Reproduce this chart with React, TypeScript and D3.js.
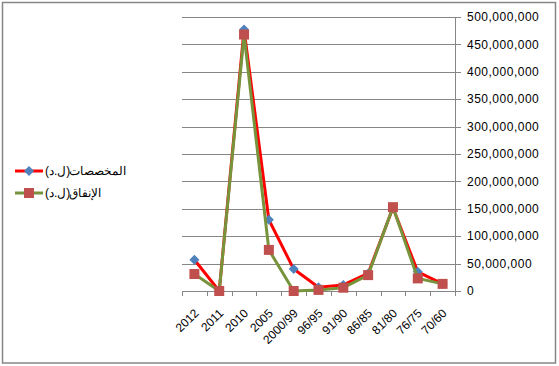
import React from "react";
import * as d3 from "d3";

const categories = ["2012", "2011", "2010", "2005", "2000/99", "96/95", "91/90", "86/85", "81/80", "76/75", "70/60"];
const allocations = [57e6, 0, 477e6, 130e6, 40e6, 7e6, 11e6, 32e6, 152e6, 35e6, 13e6];
const spending = [31e6, 0, 468e6, 75e6, 0, 2e6, 6e6, 29e6, 153e6, 23e6, 13e6];
const yTicks = [0, 50e6, 100e6, 150e6, 200e6, 250e6, 300e6, 350e6, 400e6, 450e6, 500e6];
const seriesNames = ["المخصصات", "الإنفاق"];
const unitLabel = "(ل.د)";

const W = 559, H = 366;
const left = 182, right = 455, top = 17, bottom = 291;

export default function App() {
  const x = d3.scaleBand<string>().domain(categories).range([left, right]);
  const y = d3.scaleLinear().domain([0, 500e6]).range([bottom, top]);
  const cx = (c: string) => (x(c) as number) + x.bandwidth() / 2;
  const line = d3.line<number>().x((_, i) => cx(categories[i])).y((v) => y(v));
  const fmt = d3.format(",");
  const grey = "#868686";
  const font = "Arial, 'Liberation Sans', sans-serif";
  const legendText = (name: string, yy: number) => (
    <g>
      <text x={45} y={yy} dy="0.35em" fontSize={12} fill="#000">{unitLabel}</text>
      <text x={69} y={yy} dy="0.35em" fontSize={12} fill="#000">{name}</text>
    </g>
  );
  return (
    <svg width={W} height={H} style={{ position: "absolute", left: 0, top: 0 }} fontFamily={font}>
      <rect x={0} y={0} width={W} height={H} fill="#fff" />
      <rect x={2.5} y={2.5} width={553} height={360.5} fill="none" stroke={grey} strokeWidth={1.5} />
      {yTicks.map((t) => (
        <g key={t}>
          {t > 0 && <line x1={left} x2={right} y1={Math.round(y(t)) + 0.5} y2={Math.round(y(t)) + 0.5} stroke={grey} strokeWidth={1} />}
          <line x1={right} x2={right + 6} y1={Math.round(y(t)) + 0.5} y2={Math.round(y(t)) + 0.5} stroke={grey} strokeWidth={1} />
          <text x={467} y={y(t)} dy="0.35em" fontSize={12} letterSpacing={0.5} fill="#000">{fmt(t)}</text>
        </g>
      ))}
      <line x1={right + 0.5} x2={right + 0.5} y1={top} y2={bottom} stroke={grey} />
      <line x1={left} x2={right + 6} y1={bottom + 0.5} y2={bottom + 0.5} stroke={grey} />
      {categories.map((c, i) => (
        <line key={"t" + i} x1={Math.round(x(c) as number) + 0.5} x2={Math.round(x(c) as number) + 0.5} y1={bottom} y2={bottom + 5} stroke={grey} />
      ))}
      <line x1={right + 0.5} x2={right + 0.5} y1={bottom} y2={bottom + 5} stroke={grey} />
      {categories.map((c) => (
        <text key={"l" + c} transform={`translate(${cx(c) - 1},${bottom + 17}) rotate(-45)`} textAnchor="end" dy="0.7em" fontSize={12} fill="#000">{c}</text>
      ))}
      <path d={line(allocations) || ""} fill="none" stroke="#FF0000" strokeWidth={3} strokeLinejoin="round" />
      {allocations.map((v, i) => (
        <path key={"d" + i} d="M0,-5L5,0L0,5L-5,0Z" transform={`translate(${cx(categories[i])},${y(v)})`} fill="#4F81BD" />
      ))}
      <path d={line(spending) || ""} fill="none" stroke="#77933C" strokeWidth={3} strokeLinejoin="round" />
      {spending.map((v, i) => (
        <rect key={"s" + i} x={cx(categories[i]) - 5} y={y(v) - 5} width={10} height={10} fill="#C0504D" />
      ))}
      <g>
        <line x1={15} x2={43} y1={171} y2={171} stroke="#FF0000" strokeWidth={3} />
        <path d="M0,-5L5,0L0,5L-5,0Z" transform="translate(29,171)" fill="#4F81BD" />
        {legendText(seriesNames[0], 171)}
        <line x1={15} x2={43} y1={193} y2={193} stroke="#77933C" strokeWidth={3} />
        <rect x={24} y={188} width={10} height={10} fill="#C0504D" />
        {legendText(seriesNames[1], 193)}
      </g>
    </svg>
  );
}
